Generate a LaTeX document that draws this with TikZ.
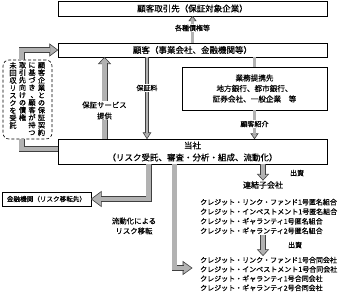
\documentclass[tikz,border=0pt]{standalone}
\usepackage{fontspec}
\setmainfont{Noto Sans CJK JP}[FakeBold=0.5]
\usetikzlibrary{positioning}
\tikzset{
  box/.style={draw, line width=0.6pt, fill=white, inner sep=1pt, align=center},
  notebox/.style={draw, line width=0.6pt, dash pattern=on 3pt off 2pt, rounded corners=6pt},
  shaftL/.style={draw=black!75, line width=0.6pt, double=gray!60, double distance=4.8pt},
  shaftM/.style={draw=black!75, line width=0.6pt, double=gray!60, double distance=4.2pt},
  shaftS/.style={draw=black!75, line width=0.6pt, double=gray!60, double distance=2.6pt},
  headst/.style={draw=black!75, fill=gray!60, line width=0.6pt, line join=miter},
  lbl/.style={fill=white, inner sep=1pt, align=center, font=\fsz{7}{10}},
  vcol/.style={inner sep=0pt, align=center, anchor=north, font=\fsz{7.2}{7.5}},
  listtxt/.style={inner sep=1pt, align=left, anchor=west},
}
\newcommand{\fsz}[2]{\fontsize{#1}{#2}\selectfont}
% touten for vertical writing
\newcommand{\vtouten}{\makebox[1em][l]{\hspace{0.3em}、}}
% block arrow head: at, angle, length, half width
\newcommand{\tiphead}[4]{%
  \draw[headst, shift={#1}, rotate=#2] (0,0) -- (-#3,#4) -- (-#3,-#4) -- cycle;
}

\begin{document}
\begin{tikzpicture}[x=1pt, y=-1pt]
  \useasboundingbox (0,0) rectangle (339,297);
  % boxes
  \node[box, minimum width=269pt, minimum height=15pt, font=\fsz{8.5}{10}] (client) at (192.5,8.5) {顧客取引先（保証対象企業）};
  \node[box, minimum width=269pt, minimum height=14pt, font=\fsz{8.5}{10}] (cust) at (192.5,50) {顧客（事業会社、金融機関等）};
  \node[box, minimum width=145pt, minimum height=43pt, font=\fsz{7.6}{10.5}] (partner) at (254.5,88.5)
    {業務提携先\\地方銀行、都市銀行、\\証券会社、一般企業　等};
  \node[box, minimum width=269pt, minimum height=25pt, font=\fsz{8.5}{12}] (us) at (192.5,151.5)
    {当社\\（リスク受託、審査・分析・組成、流動化）};
  \node[box, minimum width=89pt, minimum height=14pt, font=\fsz{6.6}{8}] (fin) at (46.5,199) {金融機関（リスク移転先）};
  % dashed note, vertical text
  \node[notebox, minimum width=49pt, minimum height=79pt] (note) at (27.5,99.5) {};
  \node[vcol] (col1) at (41.5,62) {顧\\客\\企\\業\\と\\の\\保\\証\\契\\約};
  \node[vcol] (col2) at (32,62) {に\\基\\づ\\き\\\vtouten\\顧\\客\\が\\持\\つ};
  \node[vcol] (col3) at (22.5,62) {取\\引\\先\\向\\け\\の\\債\\権};
  \node[vcol] (col4) at (13,62) {未\\回\\収\\リ\\ス\\ク\\を\\受\\託};
  % subsidiaries
  \node[inner sep=1pt, font=\fsz{8}{10}] (sub) at (263,185) {連結子会社};
  \node[listtxt, font=\fsz{7}{9.6}] (tmk) at (199,216.5)
    {クレジット・リンク・ファンド1号匿名組合\\クレジット・インベストメント1号匿名組合\\クレジット・ギャランティ1号匿名組合\\クレジット・ギャランティ2号匿名組合};
  \node[listtxt, font=\fsz{7}{9.3}] (llc) at (199,274)
    {クレジット・リンク・ファンド1号合同会社\\クレジット・インベストメント1号合同会社\\クレジット・ギャランティ1号合同会社\\クレジット・ギャランティ2号合同会社};

  % label positions
  \coordinate (svcmid) at (104.5,110.5);
  \coordinate (feemid) at (147,88);
  \coordinate (llctip) at (192,268);

  % 各種債権等
  \tiphead{(client.south)}{90}{4.5}{3.5}
  \draw[shaftS] (cust.north) -- ([yshift=-3.9pt]client.south);
  % to partner
  \draw[shaftS] (partner.north |- cust.south) -- (partner.north);
  % 顧客紹介
  \coordinate (introtip) at (partner.south |- us.north);
  \tiphead{(introtip)}{-90}{5}{3.5}
  \draw[shaftS] (partner.south) -- ([yshift=4.4pt]introtip);
  % 保証サービス提供
  \coordinate (svctip) at (svcmid |- cust.south);
  \tiphead{(svctip)}{90}{6.5}{6}
  \draw[shaftL] (svcmid |- us.north) -- ([yshift=-5.9pt]svctip);
  % 保証料
  \coordinate (feetip) at (feemid |- us.north);
  \tiphead{(feetip)}{-90}{6}{3.8}
  \draw[shaftS] (feemid |- cust.south) -- ([yshift=5.4pt]feetip);
  % note to customer, note to us
  \tiphead{(cust.west)}{0}{8}{6}
  \draw[shaftL] ([xshift=-6pt]note.north) |- ([xshift=-7.4pt]cust.west);
  \draw[shaftL] ([xshift=-6pt]note.south) |- ([yshift=2.5pt]us.west);
  % risk transfer
  \tiphead{(fin.east)}{180}{10}{7.5}
  \draw[shaftL] ([xshift=-44pt]us.south) |- ([xshift=9.4pt]fin.east);
  \tiphead{(llctip)}{0}{9}{6.5}
  \draw[shaftM] ([xshift=-18pt]us.south) |- ([xshift=-8.4pt]llctip);
  % 出資
  \tiphead{(sub.north)}{-90}{6}{5.5}
  \draw[shaftM] (sub.north |- us.south) -- ([yshift=5.4pt]sub.north);
  \coordinate (inv2tip) at (sub.north |- llc.north);
  \tiphead{(inv2tip)}{-90}{6}{5.5}
  \draw[shaftM] (sub.north |- tmk.south) -- ([yshift=5.4pt]inv2tip);

  % labels
  \node[lbl] (claimlbl) at (192.5,28) {各種債権等};
  \node[lbl] (introlbl) at (254.5,124) {顧客紹介};
  \node[lbl, font=\fsz{7.4}{11}] (svclbl) at (svcmid) {保証サービス\\提供};
  \node[lbl] (feelbl) at (feemid) {保証料};
  \node[lbl, font=\fsz{7.4}{10}] (seclbl) at (134,226) {流動化による\\リスク移転};
  \node[lbl] (inv1lbl) at (297,173) {出資};
  \node[lbl] (inv2lbl) at (295,245) {出資};
\end{tikzpicture}
\end{document}
